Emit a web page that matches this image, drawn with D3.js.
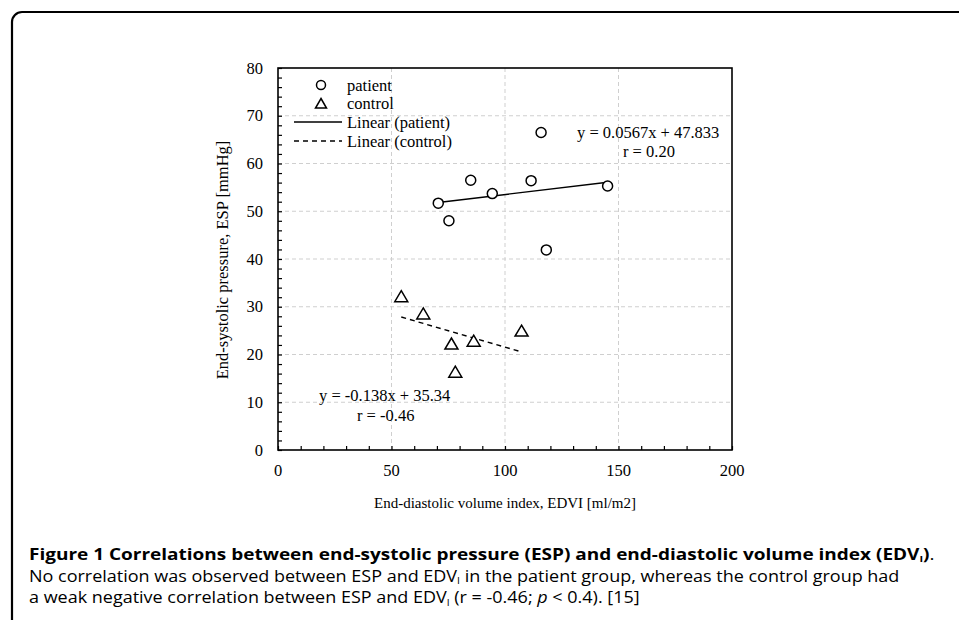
<!DOCTYPE html>
<html>
<head>
<meta charset="utf-8">
<script src="https://cdn.jsdelivr.net/npm/d3@7"></script>
<style>
  body { margin: 0; background: #fff; }
  svg text { fill: #000; }
  .serif { font-family: "Liberation Serif", "Times New Roman", serif; }
  .cap { font-family: "Open Sans", "Noto Sans", sans-serif; }
</style>
</head>
<body>
<svg id="fig" width="959" height="620"></svg>
<script>
// values
var patientX = [70.6, 75.3, 84.9, 94.4, 111.5, 115.9, 118.2, 145.2];
var patientY = [51.7, 48.0, 56.5, 53.7, 56.4, 66.5, 41.9, 55.3];
var controlX = [54.3, 64.0, 76.4, 86.2, 78.1, 107.3];
var controlY = [32.1, 28.5, 22.2, 22.8, 16.3, 24.9];
var patientFit = [0.0567, 47.833];   // slope, intercept
var controlFit = [-0.138, 35.34];
var xTicks = [0, 50, 100, 150, 200];
var yTicks = [0, 10, 20, 30, 40, 50, 60, 70, 80];
var legendLabels = ["patient", "control", "Linear (patient)", "Linear (control)"];

var svg = d3.select("#fig");

// outer panel border (continues off the page)
svg.append("rect")
    .attr("x", 12).attr("y", 12)
    .attr("width", 1000).attr("height", 700)
    .attr("rx", 10)
    .attr("fill", "none").attr("stroke", "#000").attr("stroke-width", 2.2);

var x = d3.scaleLinear().domain([0, 200]).range([278, 732]);
var y = d3.scaleLinear().domain([0, 80]).range([450, 68]);

// grid
var grid = svg.append("g").attr("stroke", "#cfcfcf").attr("stroke-dasharray", "4,3").attr("stroke-width", 1);
grid.selectAll(".gx").data(xTicks.slice(1, -1)).enter().append("line")
    .attr("x1", function(d){ return x(d); }).attr("x2", function(d){ return x(d); })
    .attr("y1", y(0)).attr("y2", y(80));
grid.selectAll(".gy").data(yTicks.slice(1, -1)).enter().append("line")
    .attr("y1", function(d){ return y(d); }).attr("y2", function(d){ return y(d); })
    .attr("x1", x(0)).attr("x2", x(200));

// minor inward ticks
var xAxis = d3.axisBottom(x).tickValues(d3.range(0, 201, 10)).tickSize(-4).tickFormat("");
var yAxis = d3.axisLeft(y).tickValues(d3.range(0, 81, 2)).tickSize(-4).tickFormat("");
svg.append("g").attr("transform", "translate(0," + y(0) + ")").call(xAxis)
    .call(function(g){ g.select(".domain").remove(); g.selectAll("line").attr("stroke-width", 1.2); });
svg.append("g").attr("transform", "translate(" + x(0) + ",0)").call(yAxis)
    .call(function(g){ g.select(".domain").remove(); g.selectAll("line").attr("stroke-width", 1.2); });

// frame
svg.append("rect")
    .attr("x", x(0)).attr("y", y(80))
    .attr("width", x(200) - x(0)).attr("height", y(0) - y(80))
    .attr("fill", "none").attr("stroke", "#000").attr("stroke-width", 1.6);

// tick labels
svg.selectAll(".xl").data(xTicks).enter().append("text")
    .attr("class", "serif")
    .attr("x", function(d){ return x(d); }).attr("y", y(0) + 26)
    .attr("text-anchor", "middle").attr("font-size", 16.5)
    .text(function(d){ return d; });
svg.selectAll(".yl").data(yTicks).enter().append("text")
    .attr("class", "serif")
    .attr("x", x(0) - 15).attr("y", function(d){ return y(d) + 5.5; })
    .attr("text-anchor", "end").attr("font-size", 16.5)
    .text(function(d){ return d; });

// axis titles
svg.append("text").attr("class", "serif")
    .attr("x", 505).attr("y", 508).attr("text-anchor", "middle").attr("font-size", 15)
    .text("End-diastolic volume index, EDVI [ml/m2]");
svg.append("text").attr("class", "serif")
    .attr("transform", "translate(228,260) rotate(-90)")
    .attr("text-anchor", "middle").attr("font-size", 16.5)
    .text("End-systolic pressure, ESP [mmHg]");

// trend lines
function fitLine(xs, fit) {
    var ext = d3.extent(xs);
    return ext.map(function(v){ return [x(v), y(fit[0] * v + fit[1])]; });
}
var line = d3.line();
svg.append("path").attr("d", line(fitLine(patientX, patientFit)))
    .attr("stroke", "#000").attr("stroke-width", 1.4).attr("fill", "none");
svg.append("path").attr("d", line(fitLine(controlX, controlFit)))
    .attr("stroke", "#000").attr("stroke-width", 1.4).attr("stroke-dasharray", "5,4").attr("fill", "none");

// markers
var patients = patientX.map(function(v, i){ return [v, patientY[i]]; });
var controls = controlX.map(function(v, i){ return [v, controlY[i]]; });
svg.selectAll(".pt").data(patients).enter().append("circle")
    .attr("cx", function(d){ return x(d[0]); }).attr("cy", function(d){ return y(d[1]); })
    .attr("r", 5).attr("fill", "#fff").attr("stroke", "#000").attr("stroke-width", 1.5);
var tri = "M0,-6L6.5,5L-6.5,5Z";
svg.selectAll(".ct").data(controls).enter().append("path")
    .attr("d", tri)
    .attr("transform", function(d){ return "translate(" + x(d[0]) + "," + y(d[1]) + ")"; })
    .attr("fill", "#fff").attr("stroke", "#000").attr("stroke-width", 1.5);

// equations
function eqText(tx, ty, s) {
    svg.append("text").attr("class", "serif").attr("x", tx).attr("y", ty)
        .attr("font-size", 16.5).text(s);
}
eqText(577, 138, "y = 0.0567x + 47.833");
eqText(623, 157, "r = 0.20");
eqText(319, 401, "y = -0.138x + 35.34");
eqText(357, 421, "r = -0.46");

// legend
var lg = svg.append("g");
var rows = [85, 103.5, 122, 141];
lg.append("circle").attr("cx", 321).attr("cy", rows[0]).attr("r", 4.5)
    .attr("fill", "#fff").attr("stroke", "#000").attr("stroke-width", 1.5);
lg.append("path").attr("d", "M0,-5L5.5,4.5L-5.5,4.5Z").attr("transform", "translate(321," + rows[1] + ")")
    .attr("fill", "#fff").attr("stroke", "#000").attr("stroke-width", 1.5);
lg.append("line").attr("x1", 294).attr("x2", 342).attr("y1", rows[2]).attr("y2", rows[2])
    .attr("stroke", "#000").attr("stroke-width", 1.4);
lg.append("line").attr("x1", 294).attr("x2", 342).attr("y1", rows[3]).attr("y2", rows[3])
    .attr("stroke", "#000").attr("stroke-width", 1.4).attr("stroke-dasharray", "5,4");
lg.selectAll("text").data(legendLabels).enter().append("text")
    .attr("class", "serif").attr("x", 347)
    .attr("y", function(d, i){ return rows[i] + 5.5; })
    .attr("font-size", 16.5).text(function(d){ return d; });

// caption
var cap = svg.append("g").attr("class", "cap").attr("font-size", 16.5);
function sub(t) {
    t.append("tspan").attr("font-size", 9.5).attr("dy", 2.5).text("I");
}
var t1 = cap.append("text").attr("y", 560).attr("font-weight", "bold");
t1.append("tspan").text("Figure 1 Correlations between end-systolic pressure (ESP) and end-diastolic volume index (EDV");
sub(t1);
t1.append("tspan").attr("dy", -2.5).text(")");
t1.append("tspan").attr("font-weight", "normal").text(".");
var t2 = cap.append("text").attr("y", 582);
t2.append("tspan").text("No correlation was observed between ESP and EDV");
sub(t2);
t2.append("tspan").attr("dy", -2.5).text(" in the patient group, whereas the control group had");
var t3 = cap.append("text").attr("y", 603.5);
t3.append("tspan").text("a weak negative correlation between ESP and EDV");
sub(t3);
t3.append("tspan").attr("dy", -2.5).text(" (r = -0.46; ");
t3.append("tspan").attr("font-style", "italic").text("p");
t3.append("tspan").text(" < 0.4). [15]");

// squeeze/stretch caption lines to the widths in the figure
var s1 = 906 / t1.node().getComputedTextLength();
var s2 = 871 / t2.node().getComputedTextLength();
t1.attr("transform", "translate(29,0) scale(" + s1 + ",1)");
t2.attr("transform", "translate(29,0) scale(" + s2 + ",1)");
t3.attr("transform", "translate(29,0) scale(" + s2 + ",1)");
</script>
</body>
</html>
